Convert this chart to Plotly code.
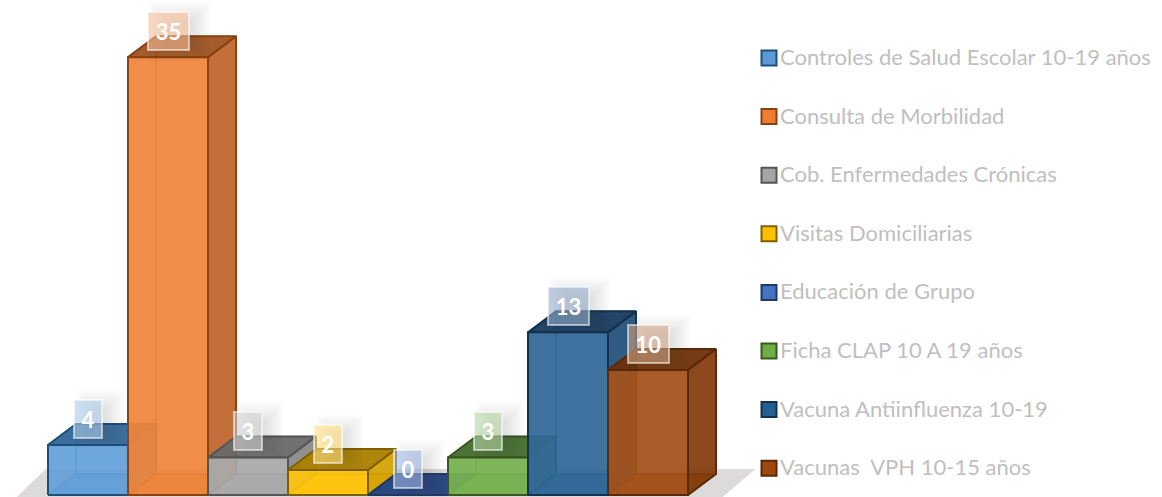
import plotly.graph_objects as go

categories = ["Controles de Salud Escolar 10-19 años", "Consulta de Morbilidad",
              "Cob. Enfermedades Crónicas", "Visitas Domiciliarias", "Educación de Grupo",
              "Ficha CLAP 10 A 19 años", "Vacuna Antiinfluenza 10-19", "Vacunas  VPH 10-15 años"]
values = [4, 35, 3, 2, 0, 3, 13, 10]
front_colors = ["#5B9BD5", "#ED7D31", "#A5A5A5", "#FFC000", "#4472C4", "#70AD47", "#255E91", "#9E480E"]
top_colors = ["#2F6496", "#9C5120", "#666666", "#A67C00", "#264478", "#43682B", "#163A5C", "#6A300A"]
side_colors = ["#4A7FB0", "#B8622A", "#858585", "#CFA000", "#375C9E", "#5A8C3A", "#1E4C76", "#7F3A0B"]
line_colors = ["#1F4E79", "#8A4310", "#555555", "#7F6000", "#203864", "#385723", "#12324F", "#5A2A08"]

W, H = 1162, 497
PX_X, PX_Y = 80.0, 12.51
X0, Y0 = 48.0, 495.0
DX, DY = 28 / PX_X, 21 / PX_Y
x_range = [-X0 / PX_X, (W - X0) / PX_X]
y_range = [-(H - Y0) / PX_Y, Y0 / PX_Y]


def rgba(hex_color, a):
    r, g, b = int(hex_color[1:3], 16), int(hex_color[3:5], 16), int(hex_color[5:7], 16)
    return f"rgba({r},{g},{b},{a})"


def tint(hex_color, mix, a):
    r, g, b = int(hex_color[1:3], 16), int(hex_color[3:5], 16), int(hex_color[5:7], 16)
    r, g, b = [round(ch + (255 - ch) * mix) for ch in (r, g, b)]
    return f"rgba({r},{g},{b},{a})"


fig = go.Figure()


def face(pts, fill, line=None, lw=2.0):
    xs = [p[0] for p in pts] + [pts[0][0]]
    ys = [p[1] for p in pts] + [pts[0][1]]
    fig.add_trace(go.Scatter(x=xs, y=ys, mode="lines", fill="toself", fillcolor=fill,
                             line=dict(color=line or "rgba(0,0,0,0)", width=lw if line else 0),
                             hoverinfo="skip", showlegend=False))


# floor
pad = 0.41
n = len(values)
fy = 26 / PX_Y
face([(-pad, -0.3), (n + pad, -0.3),
      (n + pad + DX + 0.08, fy), (-pad + DX + 0.03, fy)], "#DCDADA")

# bars, left to right
for i, v in enumerate(values):
    l, r = i, i + 1
    c, t, s, e = front_colors[i], top_colors[i], side_colors[i], line_colors[i]
    # inner faces: floor, back, left
    face([(l, 0), (r, 0), (r + DX, DY), (l + DX, DY)], rgba(c, 0.9), rgba(e, 0.5), 1.5)
    face([(l + DX, DY), (r + DX, DY), (r + DX, v + DY), (l + DX, v + DY)], rgba(c, 0.5), rgba(e, 0.4), 1.5)
    face([(l, 0), (l + DX, DY), (l + DX, v + DY), (l, v)], rgba(c, 0.5), rgba(e, 0.4), 1.5)
    # outer faces: right, top, front
    face([(r, 0), (r + DX, DY), (r + DX, v + DY), (r, v)], rgba(s, 0.85), e)
    face([(l, v), (r, v), (r + DX, v + DY), (l + DX, v + DY)], rgba(t, 0.9), e)
    face([(l, 0), (r, 0), (r, v), (l, v)], tint(c, 0.06, 0.87), e)

# soft shadows behind value boxes
lab_off = 26 / PX_Y
for i, v in enumerate(values):
    half = (20.5 if v >= 10 else 14) / PX_X
    hh = 19 / PX_Y
    cx, cy = i + 0.5 + 12 / PX_X, v + lab_off
    for g in range(-8, 12, 2):
        gx, gy = g / PX_X, g / PX_Y
        face([(cx - half - gx, cy - hh - gy), (cx + half + gx, cy - hh - gy),
              (cx + half + gx, cy + hh + gy), (cx - half - gx, cy + hh + gy)],
             "rgba(50,50,50,0.016)")

# value boxes
for i, v in enumerate(values):
    fig.add_annotation(x=i + 0.5, y=v + lab_off, xref="x", yref="y", text=f"<b>{v}</b>",
                       showarrow=False, width=(39 if v >= 10 else 26), height=36,
                       font=dict(family="Lato", size=22, color="white"),
                       bgcolor=tint(front_colors[i], 0.5, 0.6), bordercolor="rgba(255,255,255,0.55)",
                       borderwidth=2, borderpad=0, xanchor="center", yanchor="middle", align="center")

# legend (pixel axes)
leg_y = [58 + 58.6 * k for k in range(n)]
fig.add_trace(go.Scatter(x=[769] * n, y=leg_y, xaxis="x2", yaxis="y2", mode="markers",
                         marker=dict(symbol="square", size=15, color=front_colors,
                                     line=dict(color=line_colors, width=2)),
                         hoverinfo="skip", showlegend=False))
for name, y in zip(categories, leg_y):
    fig.add_annotation(x=778, y=y - 1.5, xref="x2", yref="y2", text=name, showarrow=False,
                       xanchor="left", yanchor="middle",
                       font=dict(family="Lato", size=22, color="#BFBFBF"))

fig.update_layout(
    width=W, height=H, margin=dict(l=0, r=0, t=0, b=0),
    paper_bgcolor="white", plot_bgcolor="white", showlegend=False,
    xaxis=dict(range=x_range, visible=False, fixedrange=True),
    yaxis=dict(range=y_range, visible=False, fixedrange=True),
    xaxis2=dict(range=[0, W], visible=False, overlaying="x", fixedrange=True),
    yaxis2=dict(range=[H, 0], visible=False, overlaying="y", fixedrange=True),
)
fig.write_html("out.html", config={"displayModeBar": False},
               post_script="document.body.style.margin='0';")
